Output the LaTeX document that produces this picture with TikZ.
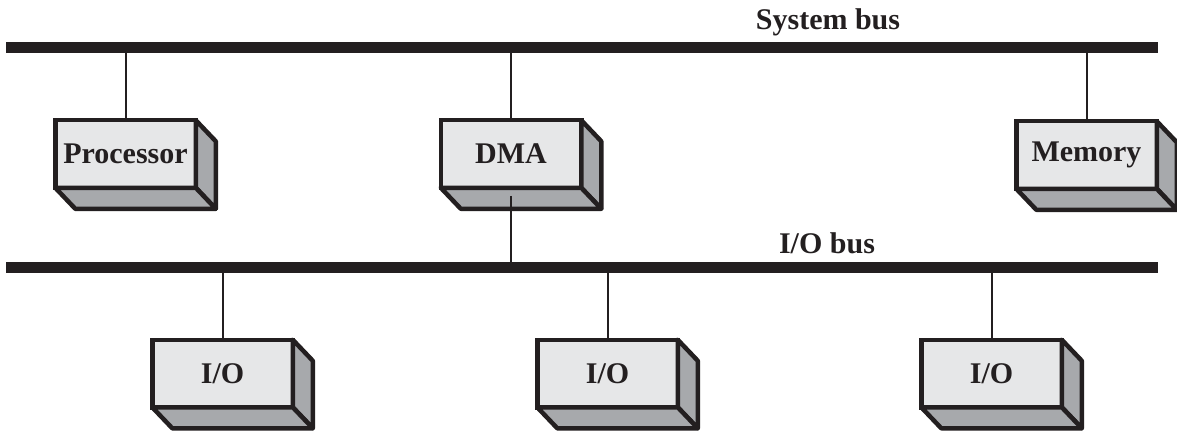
\documentclass[tikz,border=0pt]{standalone}
\usepackage{fontspec}
\setmainfont{Liberation Serif}
\usetikzlibrary{calc}
\definecolor{front}{HTML}{E6E7E8}
\definecolor{side}{HTML}{A7A9AC}
\definecolor{ink}{HTML}{231F20}

\begin{document}
\begin{tikzpicture}[x=0.5pt,y=-0.5pt,
    unit/.style={draw=ink,line width=2.25pt,fill=front,minimum width=70.25pt,minimum height=33.75pt,
      inner sep=0pt,outer sep=0pt,text=ink,font=\bfseries\fontsize{15}{18}\selectfont},
    face/.style={draw=ink,line width=2.25pt,fill=side,line join=round},
    bus/.style={draw=ink,line width=5.5pt},
    wire/.style={draw=ink,line width=1pt}]
            \useasboundingbox (0,0) rectangle (1177,433);
            \coordinate (sysW) at (6,47.5);
            \coordinate (sysE) at (1158,47.5);
            \coordinate (ioW) at (6,267);
            \coordinate (ioE) at (1158,267);
            \node[text=ink,font=\bfseries\fontsize{15}{18}\selectfont] (sysLbl) at (828,22) {System bus};
            \node[text=ink,font=\bfseries\fontsize{15}{18}\selectfont] (ioLbl) at (827,243) {I/O bus};
            \node[unit] (Proc) at (125.5,154) {Processor};
            \node[unit] (DMA) at (511,154) {\raisebox{-2pt}{DMA}};
            \node[unit] (Mem) at (1086.5,155) {Memory};
            \node[unit] (IOa) at (222.5,373.5) {I/O};
            \node[unit] (IOb) at (607.5,373.5) {\raisebox{-2.5pt}{I/O}};
            \node[unit] (IOc) at (991.5,373.5) {I/O};
            \foreach \n in {Proc,DMA,Mem,IOa,IOb,IOc} {
                \filldraw[face] (\n.north east) -- ++(20,21) -- ($(\n.south east)+(20,21)$) -- (\n.south east) -- cycle;
                \filldraw[face] (\n.south west) -- ++(20,21) -- ($(\n.south east)+(20,21)$) -- (\n.south east) -- cycle;
            }
            \draw[bus] (sysW) -- (sysE);
            \draw[bus] (ioW) -- (ioE);
            \foreach \n in {Proc,DMA,Mem} {
                \draw[wire] (\n.north) -- (\n.north |- sysW);
            }
            \foreach \n in {IOa,IOb,IOc} {
                \draw[wire] (\n.north) -- (\n.north |- ioW);
            }
            \draw[wire,shorten <=4pt] (DMA.south) -- (DMA.south |- ioW);
        \end{tikzpicture}
\end{document}
